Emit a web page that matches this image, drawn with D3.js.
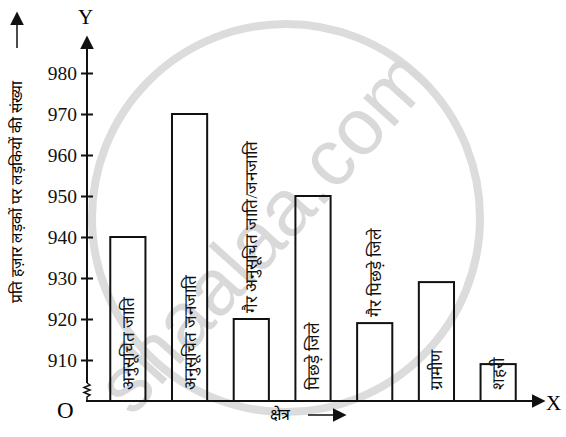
<!DOCTYPE html>
<html>
<head>
<meta charset="utf-8">
<script src="https://cdn.jsdelivr.net/npm/d3@7"></script>
<style>
  body { margin: 0; background: #fff; }
  text { font-family: "Liberation Serif", "DejaVu Serif", serif; }
</style>
</head>
<body>
<div id="plot"></div>
<script>
// child sex ratio by region (girls per 1000 boys)
var categories = ["अनुसूचित जाति", "अनुसूचित जनजाति", "गैर अनुसूचित जाति/जनजाति",
  "पिछड़े जिले", "गैर पिछड़े जिले", "ग्रामीण", "शहरी"];
var values = [940, 970, 920, 950, 919, 929, 909];
var tickValues = [910, 920, 930, 940, 950, 960, 970, 980];
// labels that sit above the bar instead of inside it
var labelOutside = [false, false, true, false, true, false, false];

var svgWidth = 566;
var svgHeight = 437;

var svg = d3.select("#plot")
  .append("svg")
  .attr("width", svgWidth)
  .attr("height", svgHeight);

var axisX = 87;
var baseY = 401;

// watermark
svg.append("circle")
  .attr("cx", 286).attr("cy", 218).attr("r", 194)
  .attr("fill", "none")
  .attr("stroke", "#dcdcdc")
  .attr("stroke-width", 8);

svg.append("text")
  .attr("transform", "translate(132, 418) rotate(-48)")
  .style("font-family", "'Liberation Sans', Arial, sans-serif")
  .attr("font-size", 80)
  .attr("fill", "#d9d9d9")
  .text("shaalaa.com");

var xScale = d3.scaleBand()
  .domain(categories)
  .range([97, 529])
  .paddingInner(0.43)
  .paddingOuter(0.215);

// axis is broken below 910, so 900 sits on the x axis
var yScale = d3.scaleLinear()
  .domain([900, 980])
  .range([baseY, 73]);

var defs = svg.append("defs");
defs.append("marker")
  .attr("id", "tri")
  .attr("viewBox", "0 0 10 10")
  .attr("refX", 1).attr("refY", 5)
  .attr("markerWidth", 14).attr("markerHeight", 14)
  .attr("markerUnits", "userSpaceOnUse")
  .attr("orient", "auto")
  .append("path")
  .attr("d", "M0,0 L10,5 L0,10 Z")
  .attr("fill", "#111");

// bars
svg.selectAll("rect.bar")
  .data(values)
  .enter()
  .append("rect")
  .attr("class", "bar")
  .attr("x", (d, i) => xScale(categories[i]))
  .attr("y", d => yScale(d))
  .attr("width", xScale.bandwidth())
  .attr("height", d => baseY - yScale(d))
  .attr("fill", "none")
  .attr("stroke", "#111")
  .attr("stroke-width", 2);

// bar labels, rotated
svg.selectAll("text.blabel")
  .data(values)
  .enter()
  .append("text")
  .attr("class", "blabel")
  .attr("transform", function (d, i) {
    var cx = xScale(categories[i]) + xScale.bandwidth() / 2 + 6;
    var y = labelOutside[i] ? yScale(d) - 6 : baseY - 11;
    return "translate(" + cx + "," + y + ") rotate(-90)";
  })
  .attr("font-size", 17)
  .attr("fill", "#111")
  .text((d, i) => categories[i]);

// y axis
var leftAxis = d3.axisLeft(yScale)
  .tickValues(tickValues)
  .tickSize(0)
  .tickPadding(10);

var yAxisG = svg.append("g")
  .attr("transform", "translate(" + axisX + ",0)")
  .call(leftAxis);
yAxisG.select(".domain").remove();
yAxisG.selectAll("text")
  .attr("font-size", 19.5)
  .attr("fill", "#111")
  .style("font-family", "'Liberation Serif', serif");
yAxisG.selectAll(".tick").append("line")
  .attr("x1", -6).attr("x2", 6)
  .attr("stroke", "#111").attr("stroke-width", 2);

// y axis line with break zigzag
svg.append("line")
  .attr("x1", axisX).attr("x2", axisX)
  .attr("y1", 383).attr("y2", 48)
  .attr("stroke", "#111").attr("stroke-width", 2)
  .attr("marker-end", "url(#tri)");
svg.append("path")
  .attr("d", "M" + axisX + ",383 l3,2 l-6,2.5 l6,2.5 l-6,2.5 l6,2.5 l-3,2 L" + axisX + "," + baseY)
  .attr("fill", "none")
  .attr("stroke", "#111").attr("stroke-width", 1.5);

// x axis line
svg.append("line")
  .attr("x1", axisX - 1).attr("x2", 533)
  .attr("y1", baseY).attr("y2", baseY)
  .attr("stroke", "#111").attr("stroke-width", 2)
  .attr("marker-end", "url(#tri)");

svg.append("text").attr("x", 546).attr("y", 410).attr("font-size", 21).text("X");
svg.append("text").attr("x", 78).attr("y", 24).attr("font-size", 21).text("Y");
svg.append("text").attr("x", 57).attr("y", 418).attr("font-size", 23).text("O");

// axis titles
svg.append("text")
  .attr("transform", "translate(22, 192) rotate(-90)")
  .attr("text-anchor", "middle")
  .attr("font-size", 15.5)
  .text("प्रति हज़ार लड़कों पर लड़कियों की संख्या");
svg.append("line")
  .attr("x1", 17).attr("x2", 17)
  .attr("y1", 48).attr("y2", 24)
  .attr("stroke", "#111").attr("stroke-width", 1.5)
  .attr("marker-end", "url(#tri)");

svg.append("text")
  .attr("x", 270).attr("y", 420)
  .attr("font-size", 16)
  .text("क्षेत्र");
svg.append("line")
  .attr("x1", 308).attr("x2", 334)
  .attr("y1", 415).attr("y2", 415)
  .attr("stroke", "#111").attr("stroke-width", 1.5)
  .attr("marker-end", "url(#tri)");
</script>
</body>
</html>
